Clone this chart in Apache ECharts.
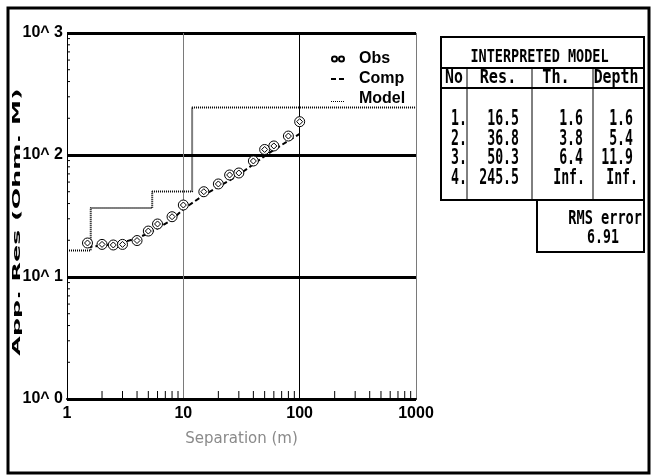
<!DOCTYPE html>
<html>
<head>
<meta charset="utf-8">
<script src="https://cdn.jsdelivr.net/npm/echarts@6/dist/echarts.min.js"></script>
<style>
html, body { margin: 0; padding: 0; background: #fff; }
#chart { width: 654px; height: 476px; }
</style>
</head>
<body>
<div id="chart"></div>
<script>
// Sounding: electrode separation (m) and apparent resistivity (Ohm.m)
const separation  = [1.5, 2, 2.5, 3, 4, 5, 6, 8, 10, 15, 20, 25, 30, 40, 50, 60, 80, 100];
const observedRes = [19.0, 18.5, 18.3, 18.5, 19.9, 23.8, 27.2, 31.2, 38.9, 50.0, 57.9, 68.6, 71.2, 89.3, 111, 118.6, 143, 187.5];
const computedRes = [17.6, 18.1, 18.6, 19.2, 20.8, 22.8, 25.0, 29.5, 36.0, 47.0, 55.0, 62.0, 69.0, 84.0, 98.0, 110, 131, 149];

// Interpreted layered model
const layerNo        = [1, 2, 3, 4];
const layerRes       = [16.5, 36.8, 50.3, 245.5];
const layerThickness = [1.6, 3.8, 6.4];
const layerDepth     = [1.6, 5.4, 11.9];
const rmsError       = 6.91;

// Axis decades
const xDecades = [1, 10, 100, 1000];
const yDecades = [1, 10, 100, 1000];

const X_MIN = xDecades[0], X_MAX = xDecades[xDecades.length - 1];
const Y_MIN = yDecades[0], Y_MAX = yDecades[yDecades.length - 1];

// minor ticks at 2..9 inside every decade
function minorTicks(decades) {
  const out = [];
  for (let i = 0; i < decades.length - 1; i++) {
    for (let k = 2; k <= 9; k++) out.push(k * decades[i]);
  }
  return out;
}

// step outline of the layered model: resistivity against depth
const modelLine = [[X_MIN, layerRes[0]]];
layerDepth.forEach((d, i) => modelLine.push([d, layerRes[i + 1]]));
modelLine.push([X_MAX, layerRes[layerRes.length - 1]]);

const SANS = '"Liberation Sans", Arial, sans-serif';
const MONO = '"DejaVu Sans Mono", monospace';

// ring with a diamond inside, used for observed points
const OBS_SYMBOL = 'path://M5 0A5 5 0 1 1 5 10A5 5 0 1 1 5 0ZM5 2L8 5L5 8L2 5Z';
// legend glyphs (a 14x14 frame is pinned by the two zero-length segments)
const FRAME = 'M0 0L0 0.01M14 14L14 14.01';
const OBS_LEGEND = 'path://' + FRAME + 'M3.5 4.5A2.5 2.5 0 1 1 3.5 9.5A2.5 2.5 0 1 1 3.5 4.5ZM10.5 4.5A2.5 2.5 0 1 1 10.5 9.5A2.5 2.5 0 1 1 10.5 4.5Z';
const COMP_LEGEND = 'path://' + FRAME + 'M0 6H5V8H0ZM8 6H13V8H8Z';
let dots = '';
for (let k = 0; k < 7; k++) dots += 'M' + (2 * k) + ' 9H' + (2 * k + 1) + 'V10H' + (2 * k) + 'Z';
const MODEL_LEGEND = 'path://' + FRAME + dots;

const chart = echarts.init(document.getElementById('chart'), null, { renderer: 'canvas' });

// ---- table of the interpreted model ----
function txt(text, x, y, size, scaleX, align) {
  return {
    type: 'text', x: x, y: y, scaleX: scaleX, z: 20,
    style: {
      text: text, font: 'bold ' + size + 'px ' + MONO, fill: '#000',
      textAlign: align, textVerticalAlign: 'middle'
    }
  };
}
function hline(x1, x2, y, w) {
  return { type: 'line', z: 20, shape: { x1: x1, y1: y, x2: x2, y2: y }, style: { stroke: '#000', lineWidth: w } };
}
function vline(x, y1, y2, w) {
  return { type: 'line', z: 20, shape: { x1: x, y1: y1, x2: x, y2: y2 }, style: { stroke: '#000', lineWidth: w } };
}

const T = { left: 441, right: 644, top: 37, title: 68, head: 88, bottom: 200, c1: 467, c2: 532, c3: 593 };
const rowY = [119.3, 139, 158.7, 178.4];

const table = [
  { type: 'rect', z: 20, shape: { x: T.left, y: T.top, width: T.right - T.left, height: T.bottom - T.top },
    style: { fill: '#fff', stroke: '#000', lineWidth: 2 } },
  hline(T.left, T.right, T.title, 2),
  hline(T.left, T.right, T.head, 2),
  vline(T.c1, T.title, T.bottom, 1),
  vline(T.c2, T.title, T.bottom, 1),
  vline(T.c3, T.title, T.bottom, 1),
  { type: 'rect', z: 20, shape: { x: 537, y: T.bottom, width: T.right - 537, height: 52 },
    style: { fill: '#fff', stroke: '#000', lineWidth: 2 } },
  txt('INTERPRETED MODEL', 539.5, 57, 18, 0.75, 'center'),
  txt('No', 454, 78, 19, 0.78, 'center'),
  txt('Res.', 498, 78, 19, 0.8, 'center'),
  txt('Th.', 556, 78, 19, 0.8, 'center'),
  txt('Depth', 616, 78, 19, 0.78, 'center'),
  txt('RMS error', 642, 219, 20, 0.68, 'right'),
  txt(rmsError.toFixed(2), 603, 237.5, 20, 0.66, 'center')
];
layerNo.forEach((n, i) => {
  const y = rowY[i];
  table.push(txt(n + '.', 467, y, 22, 0.6, 'right'));
  table.push(txt(layerRes[i].toFixed(1), 519, y, 22, 0.6, 'right'));
  if (i < layerThickness.length) {
    table.push(txt(layerThickness[i].toFixed(1), 583, y, 22, 0.6, 'right'));
    table.push(txt(layerDepth[i].toFixed(1), 633, y, 22, 0.6, 'right'));
  } else {
    table.push(txt('Inf.', 585, y, 22, 0.6, 'right'));
    table.push(txt('Inf.', 638, y, 22, 0.6, 'right'));
  }
});

const option = {
  backgroundColor: '#fff',
  animation: false,
  grid: { left: 67, right: 238, top: 33, bottom: 77, containLabel: false },
  legend: {
    orient: 'vertical', left: 325, top: 46, padding: 5,
    itemWidth: 14, itemHeight: 14, itemGap: 4,
    textStyle: { fontFamily: SANS, fontWeight: 'bold', fontSize: 16, color: '#000', padding: [0, 0, 0, 9] },
    data: [
      { name: 'Obs', icon: OBS_LEGEND },
      { name: 'Comp', icon: COMP_LEGEND },
      { name: 'Model', icon: MODEL_LEGEND }
    ]
  },
  xAxis: {
    type: 'log', logBase: 10, min: X_MIN, max: X_MAX,
    name: 'Separation (m)', nameLocation: 'middle', nameGap: 33,
    nameTextStyle: { color: '#8a8a8a', fontFamily: '"DejaVu Sans", sans-serif', fontSize: 15 },
    axisLine: { show: true, lineStyle: { color: '#000', width: 2 } },
    axisTick: { show: false },
    axisLabel: { formatter: v => String(v), margin: 7, color: '#000',
      fontFamily: SANS, fontWeight: 'bold', fontSize: 16 },
    splitLine: { show: true, lineStyle: { color: ['#000', '#7a7a7a', '#000', '#7a7a7a'], width: 1 } }
  },
  yAxis: {
    type: 'log', logBase: 10, min: Y_MIN, max: Y_MAX,
    axisLine: { show: true, lineStyle: { color: '#000', width: 1 } },
    axisTick: { show: false },
    axisLabel: { formatter: v => '10^ ' + Math.round(Math.log10(v)), margin: 4, color: '#000',
      fontFamily: SANS, fontWeight: 'bold', fontSize: 16 },
    splitLine: { show: true, lineStyle: { color: '#000', width: 3 } }
  },
  graphic: [
    { type: 'rect', z: 30, shape: { x: 8, y: 8, width: 641, height: 465 },
      style: { fill: 'none', stroke: '#000', lineWidth: 3 } },
    { type: 'text', x: 17, y: 222, rotation: Math.PI / 2, scaleX: 2.3, z: 20,
      style: { text: 'App. Res (Ohm. M)', font: 'bold 11px "DejaVu Sans", sans-serif', fill: '#000',
        textAlign: 'center', textVerticalAlign: 'middle' } }
  ].concat(table),
  series: [
    {
      name: 'xMinor', type: 'custom', silent: true, z: 4,
      data: minorTicks(xDecades).map(v => [v, Y_MIN]),
      renderItem: (params, api) => {
        const p = api.coord([api.value(0), api.value(1)]);
        return { type: 'line', shape: { x1: p[0], y1: p[1], x2: p[0], y2: p[1] - 8 },
          style: { stroke: '#000', lineWidth: 1 } };
      }
    },
    {
      name: 'yMinor', type: 'custom', silent: true, z: 4,
      data: minorTicks(yDecades).map(v => [X_MIN, v]),
      renderItem: (params, api) => {
        const p = api.coord([api.value(0), api.value(1)]);
        return { type: 'line', shape: { x1: p[0], y1: p[1], x2: p[0] + 3, y2: p[1] },
          style: { stroke: '#000', lineWidth: 1 } };
      }
    },
    {
      name: 'Model', type: 'line', step: 'end', symbol: 'none', z: 5, color: '#000',
      data: modelLine,
      itemStyle: { color: '#000' },
      lineStyle: { color: '#000', width: 2, type: [1, 1] }
    },
    {
      name: 'Comp', type: 'line', symbol: 'none', z: 6, color: '#000',
      data: separation.map((s, i) => [s, computedRes[i]]),
      itemStyle: { color: '#000' },
      lineStyle: { color: '#000', width: 2, type: [5, 3] }
    },
    {
      name: 'Obs', type: 'scatter', symbol: OBS_SYMBOL, symbolSize: 10, z: 7,
      data: separation.map((s, i) => [s, observedRes[i]]),
      itemStyle: { color: '#fff', borderColor: '#000', borderWidth: 1, opacity: 1 }
    }
  ]
};

chart.setOption(option);
</script>
</body>
</html>
